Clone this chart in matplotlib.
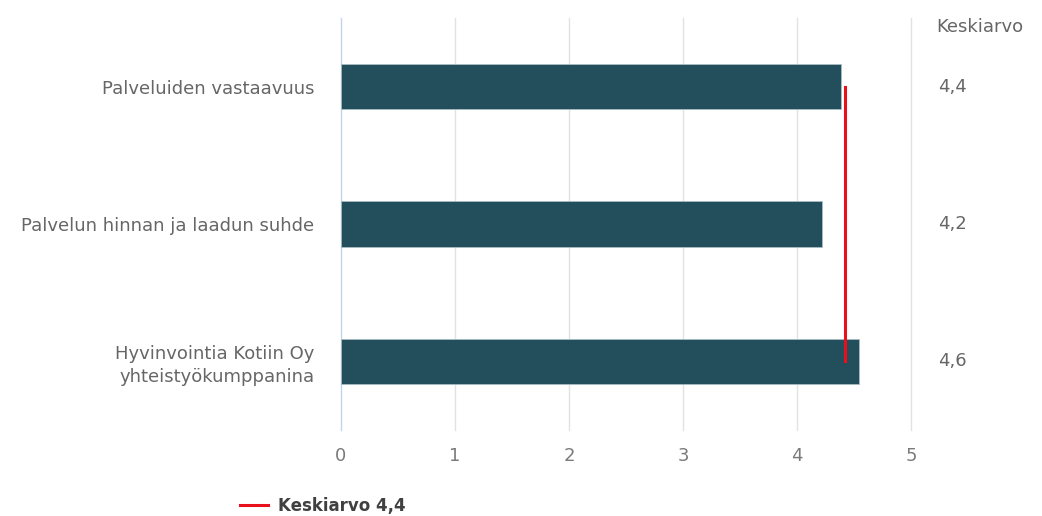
import matplotlib
matplotlib.use("Agg")
import matplotlib.pyplot as plt
from matplotlib.lines import Line2D
from matplotlib.transforms import blended_transform_factory

categories = ["Palveluiden vastaavuus", "Palvelun hinnan ja laadun suhde",
              "Hyvinvointia Kotiin Oy\nyhteistyökumppanina"]
values = [4.39, 4.22, 4.54]
avg_labels = ["4,4", "4,2", "4,6"]
overall_avg = 4.42
legend_label = "Keskiarvo 4,4"
header = "Keskiarvo"
xticks = [0, 1, 2, 3, 4, 5]

plt.rcParams['font.family'] = ['DejaVu Sans']
FS = 13
GRAY = "#666666"

fig = plt.figure(figsize=(10.42, 5.16), dpi=100)
ax = fig.add_axes([341/1042, 1-430/516, (911-341)/1042, (430-18)/516])

ypos = list(range(len(categories)))
ax.barh(ypos, values, height=0.33, color="#234e5c", edgecolor="#a9bcc4", linewidth=0.6, zorder=3)
ax.plot([overall_avg, overall_avg], [ypos[0], ypos[-1]], color="#e8101a", linewidth=2.2, zorder=4)

ax.set_xlim(0, 5)
ax.set_ylim(len(categories)-0.5, -0.5)
ax.set_xticks(xticks)
ax.set_xticklabels([str(t) for t in xticks])
ax.set_yticks(ypos)
ax.set_yticklabels(categories, fontsize=FS, color=GRAY, ha="right", linespacing=1.3)
ax.tick_params(axis='y', length=0, pad=19)
ax.tick_params(axis='x', length=0, pad=12, labelsize=FS, labelcolor="#7a7a7a")
for s in ax.spines.values():
    s.set_visible(False)
for t in xticks:
    ax.axvline(t, color="#c5d3ea" if t == 0 else "#e2e2e2", linewidth=1, zorder=1, clip_on=False)
for tl in ax.get_yticklabels():
    tl.set_multialignment("right")

tr = blended_transform_factory(fig.transFigure, ax.transData)
for y, lab in zip(ypos, avg_labels):
    ax.text(952/1042, y, lab, transform=tr, ha="center", va="center", fontsize=FS, color=GRAY)
fig.text(936/1042, 1-27/516, header, ha="left", va="center", fontsize=FS, color=GRAY)

fig.legend(handles=[Line2D([0], [0], color="#e8101a", linewidth=2.2)], labels=[legend_label],
           loc="center left", bbox_to_anchor=(225/1042, 1-506/516), frameon=False,
           prop={'weight': 'bold', 'size': 12}, labelcolor="#404040",
           handlelength=1.7, handletextpad=0.6)

fig.savefig("out.png", dpi=100)
